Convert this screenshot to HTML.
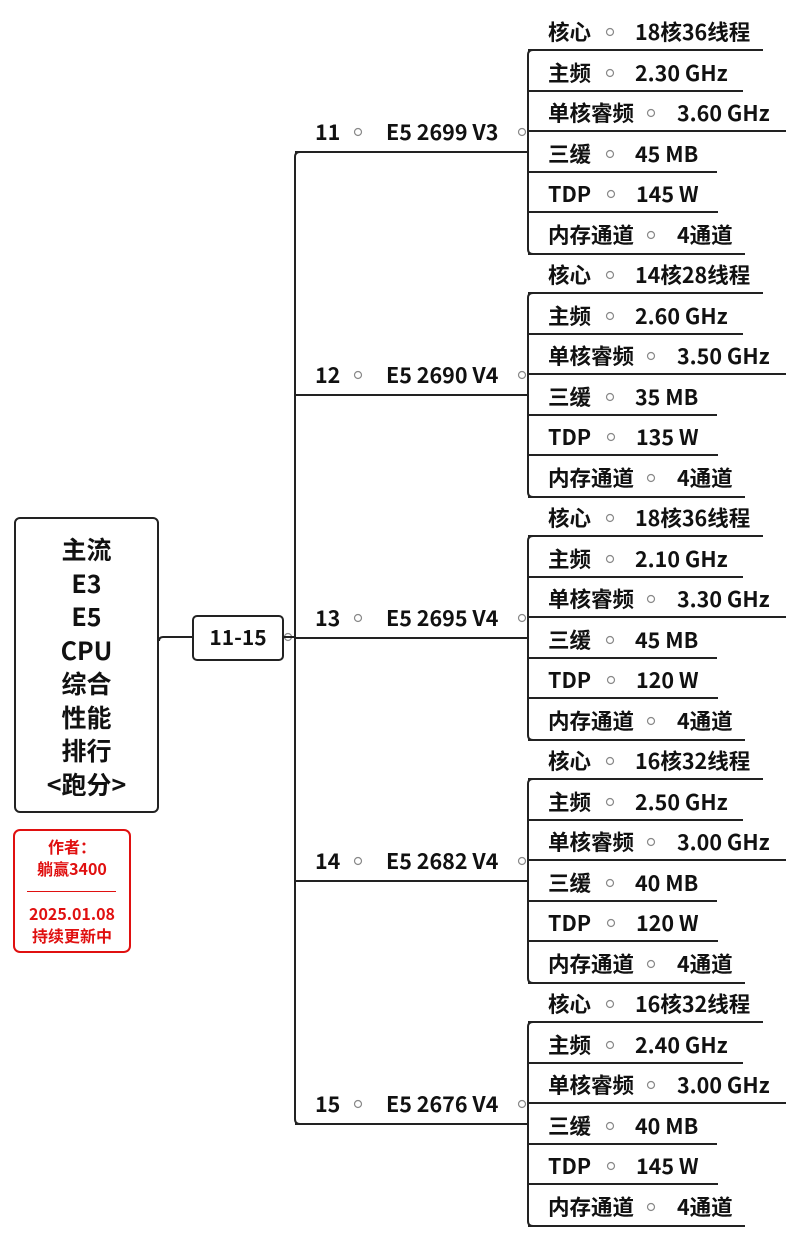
<!DOCTYPE html>
<html><head><meta charset="utf-8">
<style>
html,body{margin:0;padding:0;background:#fff;}
body{width:800px;height:1238px;position:relative;overflow:hidden;font-family:"Noto Sans CJK SC","Liberation Sans",sans-serif;font-weight:700;color:#111;}
.t{position:absolute;white-space:nowrap;font-size:21.5px;line-height:24px;}
svg{position:absolute;left:0;top:0;}
</style></head><body>
<svg id="s" width="800" height="1238" viewBox="0 0 800 1238"></svg>
<div style="position:absolute;left:14px;top:517px;width:141px;height:292px;border:2px solid #222;border-radius:6px;"></div>
<div class="t" style="left:14px;top:533px;width:145px;text-align:center;font-size:25px;line-height:33.5px;">主流<br>E3<br>E5<br>CPU<br>综合<br>性能<br>排行<br>&lt;跑分&gt;</div>
<div style="position:absolute;left:192px;top:615px;width:88px;height:42px;border:2px solid #222;border-radius:5px;"></div>
<div class="t" style="left:192px;top:625px;width:92px;text-align:center;font-size:21px;">11-15</div>
<div style="position:absolute;left:13px;top:829px;width:114px;height:120px;border:2px solid #e01010;border-radius:7px;"></div>
<div class="t" style="left:13px;top:835px;width:118px;text-align:center;font-size:16px;line-height:22px;color:#e01010;">作者：<br>躺赢3400</div>
<div style="position:absolute;left:27px;top:891px;width:89px;border-top:1.5px solid #e01010;"></div>
<div class="t" style="left:13px;top:902px;width:118px;text-align:center;font-size:16px;line-height:22px;color:#e01010;">2025.01.08<br>持续更新中</div>
<div id="h"></div>
<script>
var data=[
["11","E5 2699 V3",["18核36线程","2.30 GHz","3.60 GHz","45 MB","145 W","4通道"]],
["12","E5 2690 V4",["14核28线程","2.60 GHz","3.50 GHz","35 MB","135 W","4通道"]],
["13","E5 2695 V4",["18核36线程","2.10 GHz","3.30 GHz","45 MB","120 W","4通道"]],
["14","E5 2682 V4",["16核32线程","2.50 GHz","3.00 GHz","40 MB","120 W","4通道"]],
["15","E5 2676 V4",["16核32线程","2.40 GHz","3.00 GHz","40 MB","145 W","4通道"]]];
var labels=["核心","主频","单核睿频","三缓","TDP","内存通道"];
var valx=[635,635,677,635,636,677];
var cx=[610,610,651,610,611,651];
var ends=[763,743,786,717,718,745];
var svg='',html='';
function L(x1,y1,x2,y2){svg+='<line x1="'+x1+'" y1="'+y1+'" x2="'+x2+'" y2="'+y2+'" stroke="#222" stroke-width="2"/>';}
svg+='<path d="M159 641 Q159 637 163 637 L192 637" fill="none" stroke="#222" stroke-width="2"/>';
svg+='<circle cx="288" cy="637" r="3.5" fill="#fff" stroke="#888" stroke-width="1.2"/>';
L(284,637,295,637);
svg+='<path d="M300 152 Q295 152 295 157 L295 1119 Q295 1124 300 1124" fill="none" stroke="#222" stroke-width="2"/>';
for(var g=0;g<5;g++){
 var o=243*g, by=152+o;
 L(295,by,528,by);
 svg+='<path d="M533 '+(50+o)+' Q528 '+(50+o)+' 528 '+(55+o)+' L528 '+(247+o+2)+' Q528 '+(252+o+2)+' 533 '+(252+o+2)+'" fill="none" stroke="#222" stroke-width="2"/>';
 svg+='<circle cx="522" cy="'+(132+o)+'" r="3.5" fill="#fff" stroke="#888" stroke-width="1.2"/>';
 svg+='<circle cx="358" cy="'+(132+o)+'" r="3.5" fill="#fff" stroke="#888" stroke-width="1.2"/>';
 html+='<div class="t" style="left:315px;top:'+(120+o)+'px">'+data[g][0]+'</div>';
 html+='<div class="t" style="left:386px;top:'+(120+o)+'px">'+data[g][1]+'</div>';
 for(var i=0;i<6;i++){
  var ly=Math.round(50+40.5*i+o), ty=ly-30;
  if(i==5) ly=252+o+2;
  L(528,ly,ends[i],ly);
  html+='<div class="t" style="left:548px;top:'+ty+'px">'+labels[i]+'</div>';
  svg+='<circle cx="'+cx[i]+'" cy="'+(ty+12)+'" r="3.5" fill="#fff" stroke="#888" stroke-width="1.2"/>';
  html+='<div class="t" style="left:'+valx[i]+'px;top:'+ty+'px">'+data[g][2][i]+'</div>';
 }
}
document.getElementById('s').innerHTML=svg;
document.getElementById('h').innerHTML=html;
</script>
</body></html>
